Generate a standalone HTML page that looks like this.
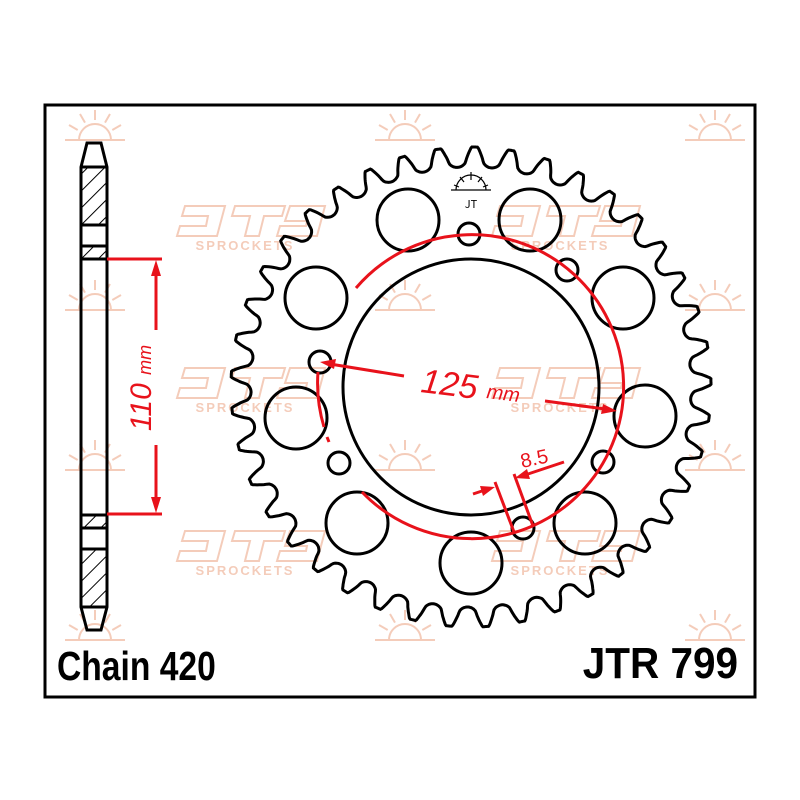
<!DOCTYPE html>
<html><head><meta charset="utf-8"><style>
html,body{margin:0;padding:0;background:#fff;}
svg{display:block;}
</style></head><body>
<svg id="s" width="800" height="800" viewBox="0 0 800 800" xmlns="http://www.w3.org/2000/svg">
<rect x="0" y="0" width="800" height="800" fill="#fff"/>
<g id="wm" fill="none" stroke="#f3c7b3" stroke-width="2" opacity="0.9"></g>
<rect x="45" y="105" width="710" height="592" fill="none" stroke="#000" stroke-width="3"/>
<defs>
<pattern id="h" patternUnits="userSpaceOnUse" width="12" height="12" patternTransform="rotate(45)">
<line x1="0" y1="0" x2="0" y2="12" stroke="#000" stroke-width="2"/>
</pattern>
</defs>
<rect x="81" y="167" width="26" height="58" fill="url(#h)"/>
<rect x="81" y="246" width="26" height="13" fill="url(#h)"/>
<rect x="81" y="515" width="26" height="13" fill="url(#h)"/>
<rect x="81" y="549" width="26" height="58" fill="url(#h)"/>
<g fill="none" stroke="#000" stroke-width="3">
<path d="M81 607 L81 167 L87 143 L101 143 L107 167 L107 607 L101 630 L87 630 Z"/>
<line x1="81" y1="167" x2="107" y2="167"/>
<line x1="81" y1="225" x2="107" y2="225"/>
<line x1="81" y1="246" x2="107" y2="246"/>
<line x1="81" y1="259" x2="107" y2="259"/>
<line x1="81" y1="515" x2="107" y2="515"/>
<line x1="81" y1="528" x2="107" y2="528"/>
<line x1="81" y1="549" x2="107" y2="549"/>
<line x1="81" y1="607" x2="107" y2="607"/>
</g>
<g stroke="#e8121b" stroke-width="3" fill="#e8121b">
<line x1="107" y1="259" x2="162" y2="259"/>
<line x1="107" y1="514" x2="162" y2="514"/>
<line x1="156" y1="270" x2="156" y2="330"/>
<line x1="156" y1="445" x2="156" y2="503"/>
<path d="M156 260 L151 276 L161 276 Z" stroke="none"/>
<path d="M156 513 L151 497 L161 497 Z" stroke="none"/>
</g>
<text x="0" y="0" transform="translate(151 388) rotate(-90)" text-anchor="middle" font-family="Liberation Sans, sans-serif" font-style="italic" font-size="30" fill="#e8121b">110 <tspan font-size="18">mm</tspan></text>
<path id="teeth" fill="none" stroke="#000" stroke-width="3"/>
<g fill="none" stroke="#000" stroke-width="3">
<circle cx="471" cy="387" r="128"/>
<circle cx="408" cy="220" r="31"/><circle cx="530" cy="220" r="31"/>
<circle cx="316" cy="298" r="31"/><circle cx="623" cy="298" r="31"/>
<circle cx="296" cy="418" r="31"/><circle cx="645" cy="416" r="31"/>
<circle cx="357" cy="523" r="31"/><circle cx="585" cy="523" r="31"/>
<circle cx="471" cy="563" r="31"/>
<circle cx="469" cy="234" r="11"/><circle cx="567" cy="270" r="11"/>
<circle cx="320" cy="362" r="11"/><circle cx="339" cy="463" r="11"/>
<circle cx="603" cy="462" r="11"/><circle cx="523" cy="528" r="11"/>
</g>
<g stroke="#000" stroke-width="1.2" fill="none">
<path d="M456 190 A15 15 0 0 1 486 190"/>
<line x1="451" y1="190" x2="491" y2="190"/>
<line x1="471" y1="172" x2="471" y2="180"/><line x1="460" y1="177" x2="464" y2="182"/><line x1="482" y1="177" x2="478" y2="182"/>
<line x1="454" y1="185" x2="459" y2="187"/><line x1="488" y1="185" x2="483" y2="187"/>
</g>
<text x="471" y="208" text-anchor="middle" font-family="Noto Sans CJK SC, sans-serif" font-size="11" fill="#000">JT</text>
<g fill="none" stroke="#e8121b" stroke-width="3">
<path d="M356 288 A152 152 0 1 1 362 492"/>
<path d="M318 372 A152 152 0 0 0 324 427"/>
<line x1="327" y1="437" x2="329" y2="442"/>
</g>
<g stroke="#e8121b" stroke-width="3" fill="#e8121b">
<line x1="404" y1="376" x2="330" y2="364"/>
<path d="M320 362 L336 359 L334 369 Z" stroke="none"/>
<line x1="545" y1="401" x2="605" y2="409"/>
<path d="M617 411 L601 414 L603 404 Z" stroke="none"/>
<line x1="564" y1="462" x2="522" y2="476"/>
<path d="M515 478 L527 469 L530 479 Z" stroke="none"/>
<line x1="473" y1="494" x2="488" y2="489"/>
<path d="M495 487 L483 496 L480 486 Z" stroke="none"/>
<line x1="495" y1="482" x2="514" y2="532"/>
<line x1="514" y1="474" x2="533" y2="526"/>
</g>
<text transform="translate(420 392) rotate(7)" font-family="Liberation Sans, sans-serif" font-style="italic" font-size="34" fill="#e8121b">125</text>
<text transform="translate(486 398) rotate(7)" font-family="Liberation Sans, sans-serif" font-style="italic" font-size="20" fill="#e8121b">mm</text>
<text transform="translate(522 468) rotate(-12)" font-family="Liberation Sans, sans-serif" font-size="20" fill="#e8121b">8.5</text>
<text transform="translate(57 680) scale(0.82 1)" font-family="Liberation Sans, sans-serif" font-weight="bold" font-size="41" fill="#000">Chain 420</text>
<text transform="translate(738 678) scale(0.92 1)" text-anchor="end" font-family="Liberation Sans, sans-serif" font-weight="bold" font-size="44" fill="#000">JTR 799</text>
</svg>
<script>
(function(){
var cx=471,cy=387,N=41,Rt=240,Rc=230,rho=10;
var pts=[];var M=N*40;
for(var k=0;k<M;k++){
 var th=k/M*2*Math.PI;
 var ph=(k%40)/40;
 var pl=2*Math.PI*229/N;
 var d=Math.abs(ph-0.5)*pl;
 var r;
 if(d<rho*0.85){r=Rc-Math.sqrt(rho*rho-d*d);}
 else{
  var d0=rho*0.85, r0=Rc-Math.sqrt(rho*rho-d0*d0);
  var d1=pl/2-3;
  if(d<d1){r=r0+(Rt-r0)*Math.pow((d-d0)/(d1-d0),0.8);}else r=Rt;
 }
 var a=th-Math.PI/2+Math.PI/N*0.2;
 pts.push((cx+r*Math.cos(a)).toFixed(1)+' '+(cy+r*Math.sin(a)).toFixed(1));
}
document.getElementById('teeth').setAttribute('d','M'+pts.join(' L')+' Z');
var wm=document.getElementById('wm');
function sun(x,y){
 var g='<path d="M'+(x-16)+' '+y+' A16 16 0 0 1 '+(x+16)+' '+y+'"/><line x1="'+(x-30)+'" y1="'+y+'" x2="'+(x+30)+'" y2="'+y+'"/>';
 for(var i=0;i<7;i++){var a=Math.PI+Math.PI*i/6;g+='<line x1="'+(x+20*Math.cos(a))+'" y1="'+(y+20*Math.sin(a))+'" x2="'+(x+30*Math.cos(a))+'" y2="'+(y+30*Math.sin(a))+'"/>';}
 return g;
}
function logo(x,y){
 return '<path d="M'+(x-60)+' '+(y-22)+' h40 l-8 30 h-40 l3 -10 h26 l2 -10 h-26 z"/><path d="M'+(x-10)+' '+(y-22)+' h50 l-3 10 h-18 l-5 20 h-14 l5 -20 h-18 z"/><path d="M'+(x+45)+' '+(y-22)+' h35 l-8 30 h-40 l3 -10 h26 l1 -5 h-22 z"/><text x="'+x+'" y="'+(y+22)+'" text-anchor="middle" font-family="Liberation Sans, sans-serif" font-weight="bold" font-size="13" letter-spacing="2" fill="#f3c7b3" stroke="none">SPROCKETS</text>';
}
var h='';
[[95,140],[405,140],[715,140],[95,310],[405,310],[715,310],[95,470],[405,470],[715,470],[95,640],[405,640],[715,640]].forEach(function(p){h+=sun(p[0],p[1]);});
[[245,228],[560,228],[245,390],[560,390],[245,553],[560,553]].forEach(function(p){h+=logo(p[0],p[1]);});
wm.innerHTML=h;
})();
</script>
</body></html>
